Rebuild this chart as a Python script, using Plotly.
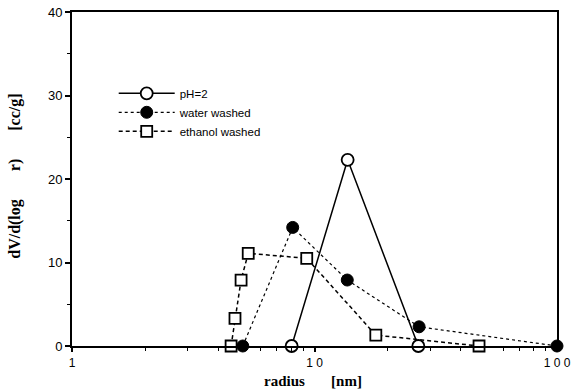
import plotly.graph_objects as go

ph2_x = [8.05, 13.7, 26.8]
ph2_y = [0.0, 22.3, 0.0]

water_x = [5.06, 8.13, 13.65, 27.0, 100.0]
water_y = [0.0, 14.2, 7.9, 2.3, 0.0]

ethanol_x = [4.53, 4.70, 4.98, 5.33, 9.29, 17.9, 47.7]
ethanol_y = [0.0, 3.3, 7.9, 11.1, 10.5, 1.3, 0.0]

x_ticks = [1, 10, 100]
x_tick_labels = ["1", "1 0", "1 0 0"]
x_minor_ticks = [2, 3, 4, 5, 6, 7, 8, 9, 20, 30, 40, 50, 60, 70, 80, 90]
y_ticks = [0, 10, 20, 30, 40]

x_title = "radius       [nm]"
y_title = "dV/d(log       r)       [cc/g]"

fig = go.Figure()
fig.add_trace(go.Scatter(
    x=ph2_x, y=ph2_y, name="pH=2", mode="lines+markers",
    line=dict(color="black", width=1.5, dash="solid"),
    marker=dict(symbol="circle", size=12, color="white", line=dict(color="black", width=1.8)),
    cliponaxis=False,
))
fig.add_trace(go.Scatter(
    x=water_x, y=water_y, name="water washed", mode="lines+markers",
    line=dict(color="black", width=1.2, dash="dot"),
    marker=dict(symbol="circle", size=12, color="black", line=dict(color="black", width=1)),
    cliponaxis=False,
))
fig.add_trace(go.Scatter(
    x=ethanol_x, y=ethanol_y, name="ethanol washed", mode="lines+markers",
    line=dict(color="black", width=1.5, dash="4px,3px"),
    marker=dict(symbol="square", size=11, color="white", line=dict(color="black", width=1.8)),
    cliponaxis=False,
))

x_title_font = dict(family="Liberation Serif, Times New Roman, serif", size=15, color="black", weight="bold")
y_title_font = dict(family="Liberation Serif, Times New Roman, serif", size=16, color="black", weight="bold")

fig.update_layout(
    width=571, height=389,
    margin=dict(l=72, r=14, t=12, b=43),
    paper_bgcolor="white", plot_bgcolor="white",
    font=dict(family="Liberation Sans, Arial, sans-serif", size=12, color="black"),
    showlegend=True,
    legend=dict(
        x=0.086, y=0.8, xanchor="left", yanchor="top",
        bgcolor="rgba(0,0,0,0)", font=dict(size=11.5),
        tracegroupgap=0, itemwidth=56,
    ),
    annotations=[
        dict(text=x_title, xref="paper", yref="paper", x=0.497, y=-0.104,
             xanchor="center", yanchor="middle", showarrow=False, font=x_title_font, borderpad=0),
        dict(text=y_title, xref="paper", yref="paper", x=-0.118, y=0.509,
             xanchor="center", yanchor="middle", showarrow=False, font=y_title_font, textangle=-90, borderpad=0),
    ],
)
fig.update_xaxes(
    type="log", range=[0, 2], automargin=False,
    tickvals=x_ticks, ticktext=x_tick_labels,
    tickfont=dict(size=12), ticklabeloverflow="allow",
    showgrid=False, zeroline=False,
    showline=True, linecolor="black", linewidth=2, mirror=True,
    ticks="outside", ticklen=4, tickwidth=1.5, tickcolor="black",
    ticklabelstandoff=1,
    minor=dict(ticks="outside", ticklen=3, tickwidth=1.2, tickcolor="black", tickvals=x_minor_ticks, showgrid=False),
)
fig.update_yaxes(
    range=[0, 40], automargin=False,
    tickvals=y_ticks, tickfont=dict(size=13),
    showgrid=False, zeroline=False,
    showline=True, linecolor="black", linewidth=2, mirror=True,
    ticks="outside", ticklen=5, tickwidth=1.5, tickcolor="black",
    minor=dict(ticks="outside", ticklen=3, tickwidth=1.2, tickcolor="black", dtick=5, showgrid=False),
)

fig.write_html("out.html")
